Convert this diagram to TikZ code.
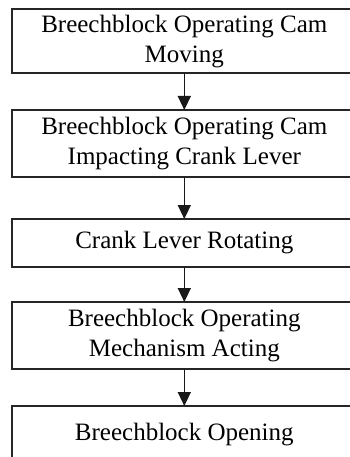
\documentclass[tikz,border=0pt]{standalone}
\usepackage{fontspec}
\setmainfont{Liberation Serif}
\usetikzlibrary{arrows.meta,positioning}
\tikzset{
  %% Process step boxes
  stepbox/.style={
    rectangle, draw=black!85, line width=1.6pt,
    minimum width=345pt, outer sep=0pt, inner sep=0pt,
    align=center, font=\fontsize{25}{30}\selectfont},
  %% Flow arrows
  arrow/.style={-{Triangle[length=14pt,width=13pt]}, line width=1.6pt, black!90},
}

\begin{document}
\begin{tikzpicture}
  \useasboundingbox (0,0) rectangle (349pt,-457pt);

  %% Steps, top to bottom
  \node[stepbox, minimum height=64pt] (cam) at (184.3pt,-41.3pt)
    {Breechblock Operating Cam\\Moving};
  \node[stepbox, minimum height=66.7pt, below=36.7pt of cam] (impact)
    {Breechblock Operating Cam\\Impacting Crank Lever};
  \node[stepbox, minimum height=47.7pt, below=42.3pt of impact] (crank)
    {Crank Lever Rotating};
  \node[stepbox, minimum height=67pt, below=35.3pt of crank] (mech)
    {Breechblock Operating\\Mechanism Acting};
  \node[stepbox, minimum height=57.5pt, below=37pt of mech] (open)
    {Breechblock Opening};

  %% Arrows
  \draw[arrow] (cam) -- (impact);
  \draw[arrow] (impact) -- (crank);
  \draw[arrow] (crank) -- (mech);
  \draw[arrow] (mech) -- (open);

\end{tikzpicture}
\end{document}
